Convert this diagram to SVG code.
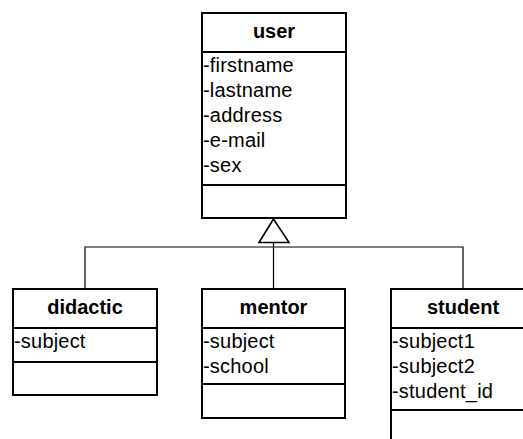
<svg xmlns="http://www.w3.org/2000/svg" width="523" height="439" viewBox="0 0 523 439">
<style>
.box{fill:#fff;stroke:#000;stroke-width:2}
.div{stroke:#000;stroke-width:2}
.con{fill:none;stroke:#000;stroke-width:1.2}
.t{font-family:"Liberation Sans",Arial,sans-serif;font-size:20px;font-weight:bold;text-anchor:middle;fill:#000}
.a{font-family:"Liberation Sans",Arial,sans-serif;font-size:20px;fill:#000;letter-spacing:0.2px}
</style>
<rect width="523" height="439" fill="#fff"/>
<g id="connectors">
<polyline class="con" points="85,289 85,247 463,247 463,289"/>
<line class="con" x1="273.5" y1="242" x2="273.5" y2="289"/>
<polygon class="con" points="273.5,219 259,242.5 289,242.5" style="stroke-width:1.6"/>
</g>
<g id="user">
<rect class="box" x="202" y="13" width="144" height="205"/>
<line class="div" x1="202" y1="52" x2="346" y2="52"/>
<line class="div" x1="202" y1="185" x2="346" y2="185"/>
<text class="t" x="274" y="38">user</text>
<text class="a" x="203" y="72">-firstname</text>
<text class="a" x="203" y="97">-lastname</text>
<text class="a" x="203" y="122">-address</text>
<text class="a" x="203" y="147">-e-mail</text>
<text class="a" x="203" y="172">-sex</text>
</g>
<g id="didactic">
<rect class="box" x="13" y="289" width="144" height="106"/>
<line class="div" x1="13" y1="328" x2="157" y2="328"/>
<line class="div" x1="13" y1="362" x2="157" y2="362"/>
<text class="t" x="85" y="314">didactic</text>
<text class="a" x="14" y="348">-subject</text>
</g>
<g id="mentor">
<rect class="box" x="202" y="289" width="143" height="129"/>
<line class="div" x1="202" y1="328" x2="345" y2="328"/>
<line class="div" x1="202" y1="384" x2="345" y2="384"/>
<text class="t" x="273.5" y="314">mentor</text>
<text class="a" x="203" y="348">-subject</text>
<text class="a" x="203" y="373">-school</text>
</g>
<g id="student">
<rect class="box" x="391" y="289" width="144" height="170"/>
<line class="div" x1="391" y1="328" x2="535" y2="328"/>
<line class="div" x1="391" y1="410" x2="535" y2="410"/>
<text class="t" x="463" y="314">student</text>
<text class="a" x="392" y="348">-subject1</text>
<text class="a" x="392" y="373">-subject2</text>
<text class="a" x="392" y="398">-student_id</text>
</g>
</svg>
